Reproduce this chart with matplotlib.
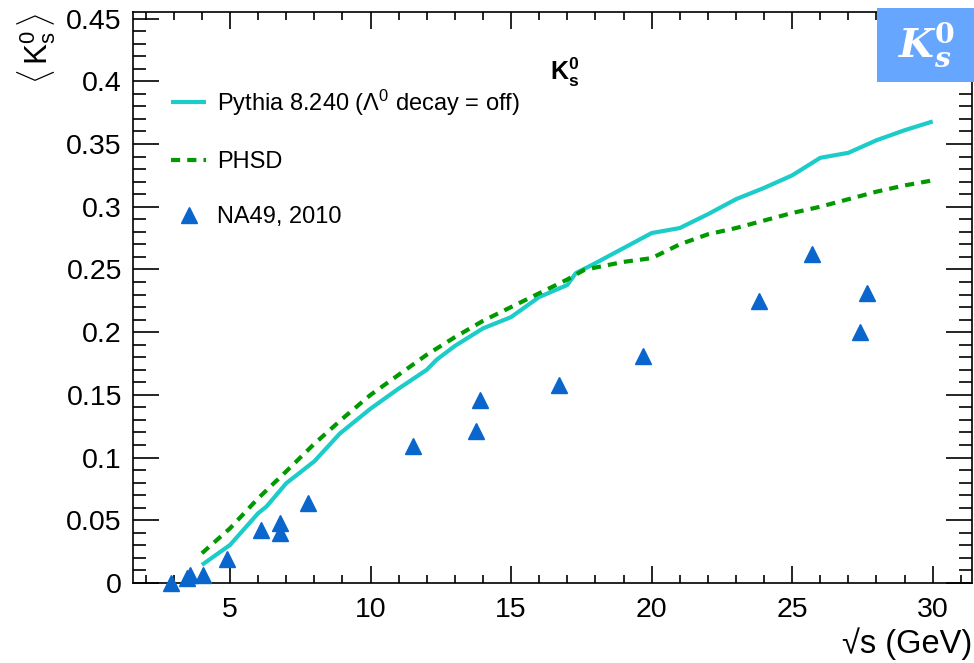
import numpy as np
import matplotlib.pyplot as plt
from matplotlib.patches import Rectangle
from matplotlib.ticker import MultipleLocator, FormatStrFormatter

plt.rcParams['font.family'] = ['Liberation Sans', 'DejaVu Sans']
plt.rcParams['mathtext.fontset'] = 'custom'
plt.rcParams['mathtext.rm'] = 'Liberation Sans'
plt.rcParams['mathtext.it'] = 'Liberation Sans:italic'
plt.rcParams['mathtext.bf'] = 'Liberation Sans:bold'

# Pythia 8.240 curve
pythia_x = [4.0, 5.0, 6.0, 6.3, 7.0, 8.0, 8.9, 10.0, 11.0, 12.0, 12.35, 13.0, 14.0, 15.0,
            16.0, 17.0, 17.3, 18.0, 19.0, 20.0, 21.0, 22.0, 23.0, 24.0, 25.0, 26.0, 27.0,
            28.0, 29.0, 30.0]
pythia_y = [0.0144, 0.0303, 0.0556, 0.061, 0.0795, 0.097, 0.119, 0.139, 0.155, 0.170, 0.178,
            0.189, 0.203, 0.212, 0.228, 0.2376, 0.247, 0.255, 0.267, 0.279, 0.283, 0.294,
            0.306, 0.315, 0.325, 0.339, 0.343, 0.353, 0.361, 0.368]

# PHSD curve
phsd_x = [4.0, 5.0, 6.0, 7.0, 8.0, 9.0, 10.0, 11.0, 12.0, 13.0, 14.0, 15.0, 16.0, 17.0,
          17.6, 18.0, 19.0, 20.0, 21.0, 22.0, 23.0, 24.0, 25.0, 26.0, 27.0, 28.0, 29.0, 30.0]
phsd_y = [0.0237, 0.0436, 0.0675, 0.089, 0.111, 0.131, 0.150, 0.166, 0.182, 0.196, 0.209,
          0.220, 0.231, 0.242, 0.2496, 0.2515, 0.256, 0.259, 0.270, 0.278, 0.283, 0.289,
          0.295, 0.300, 0.306, 0.312, 0.317, 0.321]

# NA49, 2010 data
na49_x = [2.89, 3.47, 3.58, 4.03, 4.89, 6.1, 6.78, 6.78, 7.78, 11.5, 13.75, 13.9, 16.7,
          19.69, 23.81, 25.7, 27.4, 27.65]
na49_y = [0.0, 0.004, 0.006, 0.0064, 0.019, 0.042, 0.048, 0.040, 0.0635, 0.109, 0.121,
          0.146, 0.158, 0.181, 0.225, 0.262, 0.200, 0.231]

fig = plt.figure(figsize=(9.74, 6.63), dpi=100)
ax = fig.add_axes([0.1366, 0.1207, 0.8614, 0.8607])

ax.plot(pythia_x, pythia_y, color='#1CCCC8', lw=3.0, solid_capstyle='butt',
        label=r'Pythia 8.240 ($\Lambda^{0}$ decay = off)')
ax.plot(phsd_x, phsd_y, color='#009A00', lw=3.0, dashes=(2.2, 1.7), label='PHSD')
ax.plot(na49_x, na49_y, ls='none', marker='^', ms=12, color='#0A66CC',
        markeredgecolor='#0A66CC', label='NA49, 2010', clip_on=False, zorder=3)

ax.set_xlim(1.55, 31.4)
ax.set_ylim(0, 0.455)
ax.xaxis.set_major_locator(MultipleLocator(5))
ax.xaxis.set_minor_locator(MultipleLocator(1))
ax.yaxis.set_major_locator(MultipleLocator(0.05))
ax.yaxis.set_minor_locator(MultipleLocator(0.01))
ax.yaxis.set_major_formatter(FormatStrFormatter('%g'))
ax.tick_params(axis='both', which='both', direction='in', top=True, right=True,
               labelsize=20.5, width=1.2, colors='black')
ax.tick_params(axis='x', which='major', length=12, pad=10)
ax.tick_params(axis='x', which='minor', length=6)
ax.tick_params(axis='y', which='major', length=19, pad=8)
ax.tick_params(axis='y', which='minor', length=9.5)
for s in ax.spines.values():
    s.set_linewidth(1.2)

ax.set_xlabel('√s (GeV)', fontsize=23.5, loc='right', labelpad=3)
ax.set_ylabel(r'$\langle\,\mathrm{K_{s}^{0}}\,\rangle$', fontsize=22.5, loc='top', labelpad=6)

ax.legend(loc='upper left', bbox_to_anchor=(0.045, 0.868), frameon=False, fontsize=17,
          handlelength=1.5, handletextpad=0.45, labelspacing=1.4, borderpad=0,
          borderaxespad=0)

ax.text(0.515, 0.895, r'$\mathbf{K_{s}^{0}}$', transform=ax.transAxes, fontsize=18,
        ha='center', va='center')

# badge at top right
fig.patches.append(Rectangle((0.9004, 0.8763), 0.0996, 0.1116, transform=fig.transFigure,
                             facecolor='#66A6FF', edgecolor='none', zorder=10))
fig.text(0.951, 0.932, r'$\mathbfit{K}_{\mathbfit{s}}^{\mathbf{0}}$', color='white',
         fontsize=29, ha='center', va='center', math_fontfamily='dejavuserif', zorder=11)

fig.savefig('out.png', dpi=100)
